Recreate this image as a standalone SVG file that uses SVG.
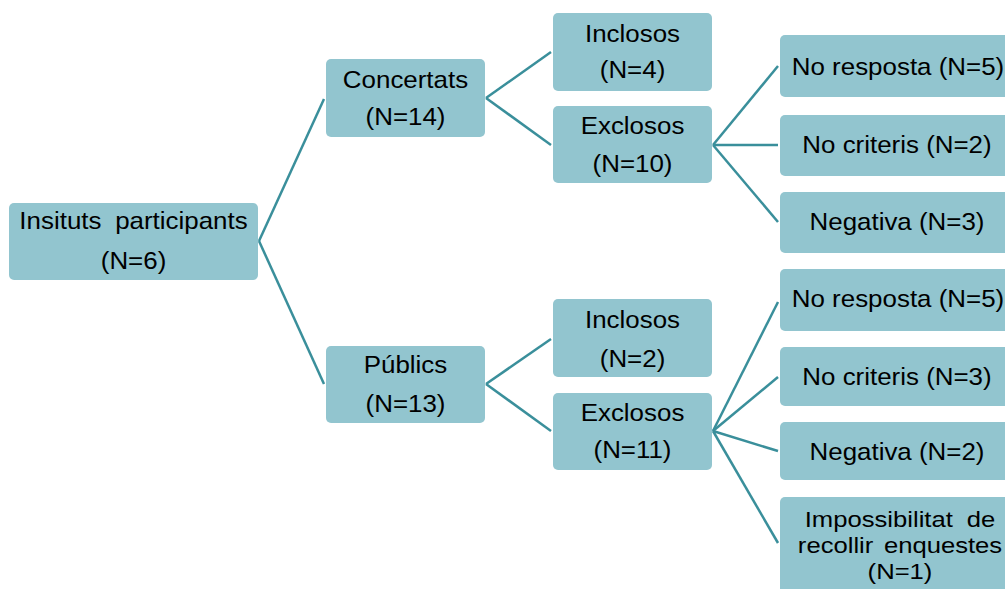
<svg xmlns="http://www.w3.org/2000/svg" width="1005" height="589" viewBox="0 0 1005 589">
<style>
.box{fill:#92C5CF;}
.t{font-family:"Liberation Sans",Arial,sans-serif;font-size:24px;fill:#000;text-anchor:middle;}
.s{font-size:22.5px;}
.c line{stroke:#3A8F9B;stroke-width:2.5;fill:none;}
</style>
<rect width="1005" height="589" fill="#fff"/>
<g class="c" id="connectors">
<line x1="259" y1="241" x2="324" y2="99"/>
<line x1="259" y1="241" x2="324" y2="384"/>
<line x1="486" y1="98" x2="551" y2="52"/>
<line x1="486" y1="98" x2="551" y2="145"/>
<line x1="486" y1="384" x2="551" y2="339"/>
<line x1="486" y1="384" x2="551" y2="431"/>
<line x1="713" y1="145" x2="778" y2="66"/>
<line x1="713" y1="145" x2="778" y2="145"/>
<line x1="713" y1="145" x2="778" y2="222"/>
<line x1="713" y1="431" x2="778" y2="302"/>
<line x1="713" y1="431" x2="778" y2="377"/>
<line x1="713" y1="431" x2="778" y2="451"/>
<line x1="713" y1="431" x2="778" y2="543"/>
</g>
<g id="root">
<rect class="box" x="9" y="203" width="249" height="77" rx="5"/>
<text class="t" transform="translate(133.5 229) scale(1.08 1)" word-spacing="6">Insituts participants</text>
<text class="t" transform="translate(133.5 269) scale(1.08 1)">(N=6)</text>
</g>
<g id="concertats">
<rect class="box" x="326" y="59" width="159" height="78" rx="5"/>
<text class="t" transform="translate(405.5 88) scale(1.08 1)">Concertats</text>
<text class="t" transform="translate(405.5 125) scale(1.08 1)">(N=14)</text>
</g>
<g id="publics">
<rect class="box" x="326" y="346" width="159" height="77" rx="5"/>
<text class="t" transform="translate(405.5 373) scale(1.08 1)">Públics</text>
<text class="t" transform="translate(405.5 412) scale(1.08 1)">(N=13)</text>
</g>
<g id="inclosos1">
<rect class="box" x="553" y="13" width="159" height="78" rx="5"/>
<text class="t" transform="translate(632.5 42) scale(1.08 1)">Inclosos</text>
<text class="t" transform="translate(632.5 78) scale(1.08 1)">(N=4)</text>
</g>
<g id="exclosos1">
<rect class="box" x="553" y="106" width="159" height="77" rx="5"/>
<text class="t" transform="translate(632.5 134) scale(1.08 1)">Exclosos</text>
<text class="t" transform="translate(632.5 172) scale(1.08 1)">(N=10)</text>
</g>
<g id="inclosos2">
<rect class="box" x="553" y="299" width="159" height="78" rx="5"/>
<text class="t" transform="translate(632.5 328) scale(1.08 1)">Inclosos</text>
<text class="t" transform="translate(632.5 367) scale(1.08 1)">(N=2)</text>
</g>
<g id="exclosos2">
<rect class="box" x="553" y="393" width="159" height="77" rx="5"/>
<text class="t" transform="translate(632.5 421) scale(1.08 1)">Exclosos</text>
<text class="t" transform="translate(632.5 458) scale(1.08 1)">(N=11)</text>
</g>
<g id="noresposta1">
<rect class="box" x="780" y="35" width="240" height="62" rx="5"/>
<text class="t" transform="translate(898 75) scale(1.08 1)">No resposta (N=5)</text>
</g>
<g id="nocriteris1">
<rect class="box" x="780" y="115" width="240" height="61" rx="5"/>
<text class="t" transform="translate(897 153) scale(1.08 1)">No criteris (N=2)</text>
</g>
<g id="negativa1">
<rect class="box" x="780" y="192" width="240" height="61" rx="5"/>
<text class="t" transform="translate(897 230) scale(1.08 1)">Negativa (N=3)</text>
</g>
<g id="noresposta2">
<rect class="box" x="780" y="269" width="240" height="62" rx="5"/>
<text class="t" transform="translate(898 307) scale(1.08 1)">No resposta (N=5)</text>
</g>
<g id="nocriteris2">
<rect class="box" x="780" y="347" width="240" height="59" rx="5"/>
<text class="t" transform="translate(897 385) scale(1.08 1)">No criteris (N=3)</text>
</g>
<g id="negativa2">
<rect class="box" x="780" y="422" width="240" height="58" rx="5"/>
<text class="t" transform="translate(897 460) scale(1.08 1)">Negativa (N=2)</text>
</g>
<g id="impossibilitat">
<rect class="box" x="780" y="497" width="240" height="110" rx="5"/>
<text class="t s" transform="translate(900 527) scale(1.14 1)" word-spacing="6">Impossibilitat de</text>
<text class="t s" transform="translate(900 553) scale(1.14 1)" word-spacing="3">recollir enquestes</text>
<text class="t s" transform="translate(900 579) scale(1.14 1)">(N=1)</text>
</g>
</svg>
